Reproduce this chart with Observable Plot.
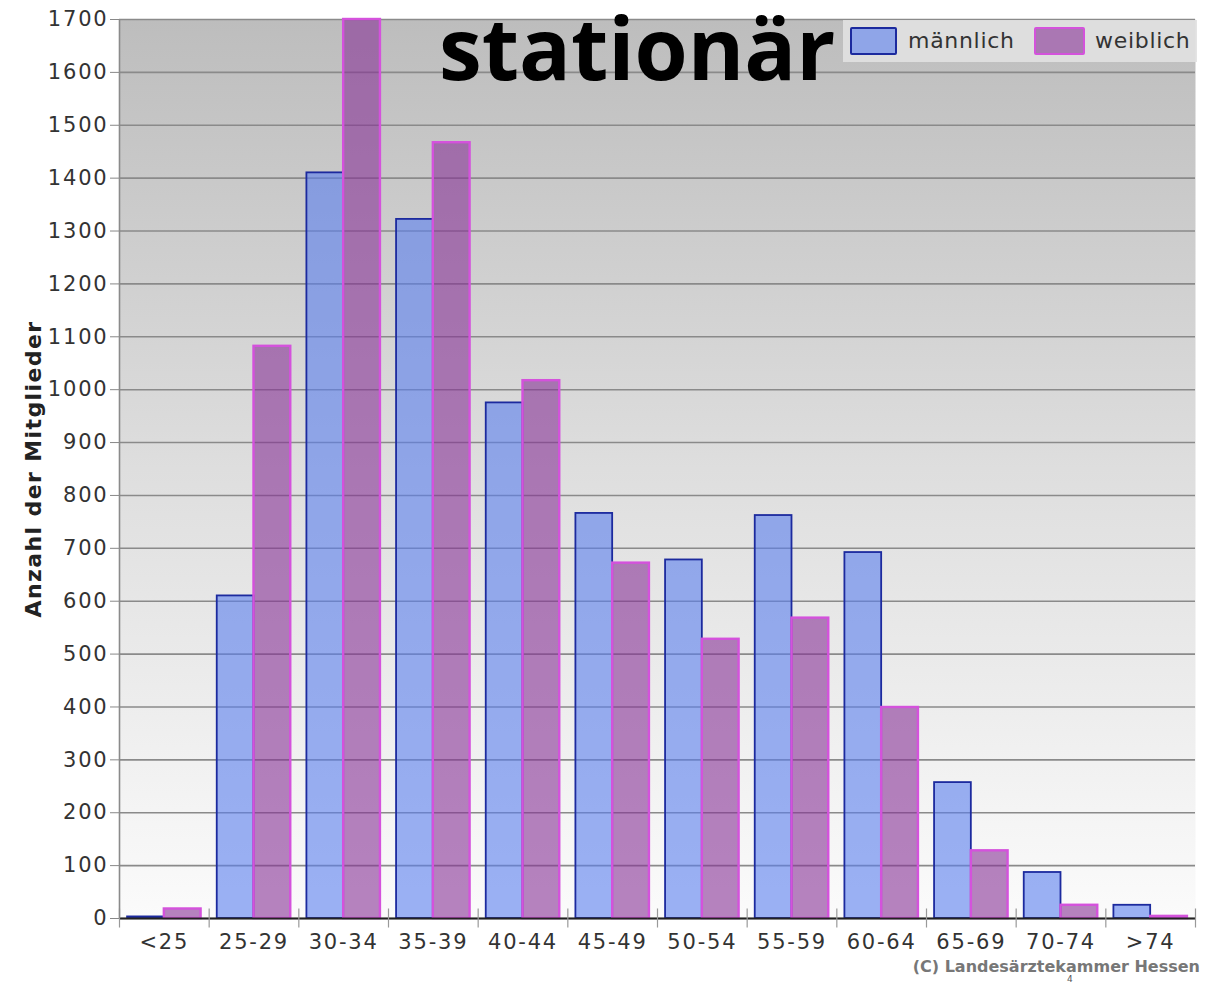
<!DOCTYPE html>
<html><head><meta charset="utf-8">
<script src="https://cdn.jsdelivr.net/npm/d3@7"></script>
<script src="https://cdn.jsdelivr.net/npm/@observablehq/plot@0.6"></script>
<style>
body{margin:0;background:#fff;}
#wrap{position:relative;width:1221px;height:983px;overflow:hidden;background:#fff;}
#wrap svg{position:absolute;left:0;top:0;}
#wrap svg text{letter-spacing:1.8px;}
.ov{position:absolute;white-space:nowrap;}
#title{left:439px;top:4px;line-height:86px;font-family:"Open Sans",sans-serif;font-weight:700;font-size:86px;color:#000;}
#legend{left:843px;top:20px;width:354px;height:42px;background:rgba(225,225,225,0.9);font-family:"DejaVu Sans",sans-serif;font-size:22px;letter-spacing:0.7px;color:#333;}
.sw{position:absolute;top:7px;height:28px;border-radius:2px;}
.lt{position:absolute;top:7px;line-height:28px;}
#ylab{left:33px;top:469px;transform:translate(-50%,-50%) rotate(-90deg);font-family:"DejaVu Sans",sans-serif;font-weight:700;font-size:22px;letter-spacing:1.4px;color:#222;}
#cap{right:21px;top:959px;line-height:16px;font-family:"DejaVu Sans",sans-serif;font-weight:700;font-size:16px;color:#777;}
#pg{left:1067px;top:975px;line-height:8px;font-family:"DejaVu Sans",sans-serif;font-size:9px;color:#555;}
</style></head><body>
<div id="wrap"></div>
<script>
const groups = ["<25","25-29","30-34","35-39","40-44","45-49","50-54","55-59","60-64","65-69","70-74",">74"];
const male   = [3, 610, 1410, 1322, 975, 766, 678, 762, 692, 257, 87, 25];
const female = [18, 1082, 1700, 1467, 1017, 672, 528, 568, 399, 128, 25, 4];
const yTicks = d3.range(0, 1701, 100);
const seriesNames = ["männlich", "weiblich"];
const titleText = "stationär";
const yLabel = "Anzahl der Mitglieder";
const captionText = "(C) Landesärztekammer Hessen";

const rows = [];
groups.forEach((g, i) => {
  rows.push({i, group: g, sex: "m", value: male[i]});
  rows.push({i, group: g, sex: "f", value: female[i]});
});

const maleFill = "rgb(90,127,238)", maleStroke = "#1c2a9e";
const femFill = "rgb(135,50,150)", femStroke = "#d452dc";

const chart = Plot.plot({
  width: 1221,
  height: 960,
  marginTop: 19,
  marginBottom: 42,
  marginLeft: 119,
  marginRight: 26,
  style: {fontFamily: "DejaVu Sans, sans-serif", fontSize: "21px", color: "#333", background: "transparent", overflow: "visible"},
  x: {domain: [0, groups.length], axis: null},
  y: {domain: [0, 1700], axis: null},
  marks: [
    Plot.frame({fill: "url(#bggrad)", stroke: "none"}),
    Plot.ruleY(yTicks, {stroke: "#8a8a8a", strokeWidth: 1.6}),
    Plot.rectY(rows, {
      x1: d => d.i + (d.sex === "m" ? 0.09 : 0.5),
      x2: d => d.i + (d.sex === "m" ? 0.5 : 0.91),
      y: "value",
      fill: d => d.sex === "m" ? maleFill : femFill,
      fillOpacity: 0.6,
      stroke: d => d.sex === "m" ? maleStroke : femStroke,
      strokeWidth: d => d.sex === "m" ? 1.8 : 2.4
    }),
    Plot.ruleY([0], {stroke: "#222", strokeWidth: 2}),
    Plot.ruleX(d3.range(groups.length + 1), {y1: -18, y2: 18, stroke: "#999", strokeWidth: 1.2}),
    Plot.ruleX([0], {stroke: "#8a8a8a", strokeWidth: 1.6}),
    Plot.axisY({ticks: yTicks, tickFormat: "d", tickSize: 9, tickPadding: 2, fontSize: 21, stroke: "#888", fill: "#333", label: null}),
    Plot.axisX({ticks: d3.range(groups.length).map(i => i + 0.5), tickFormat: v => groups[Math.floor(v)], tickSize: 0, tickPadding: 16, fontSize: 21, fill: "#333", label: null})
  ]
});

const svgNS = "http://www.w3.org/2000/svg";
const defs = document.createElementNS(svgNS, "defs");
defs.innerHTML = '<linearGradient id="bggrad" x1="0" y1="0" x2="0" y2="1">' +
  '<stop offset="0" stop-color="#bdbdbd"/><stop offset="0.5" stop-color="#dedede"/><stop offset="1" stop-color="#fbfbfb"/></linearGradient>';
chart.insertBefore(defs, chart.firstChild);

const wrap = document.getElementById("wrap");
wrap.appendChild(chart);

function ov(id, html) { const d = document.createElement("div"); d.className = "ov"; d.id = id; d.innerHTML = html; wrap.appendChild(d); return d; }
ov("title", titleText);
const leg = ov("legend", "");
leg.innerHTML =
  `<div class="sw" style="left:7px;width:47px;background:rgba(90,127,238,0.6);border:2px solid ${maleStroke};box-sizing:border-box"></div>` +
  `<div class="lt" style="left:65px">${seriesNames[0]}</div>` +
  `<div class="sw" style="left:191px;width:51px;background:rgba(135,50,150,0.6);border:2px solid ${femStroke};box-sizing:border-box"></div>` +
  `<div class="lt" style="left:252px">${seriesNames[1]}</div>`;
ov("ylab", yLabel);
ov("cap", captionText);
ov("pg", "4");
</script>
</body></html>
